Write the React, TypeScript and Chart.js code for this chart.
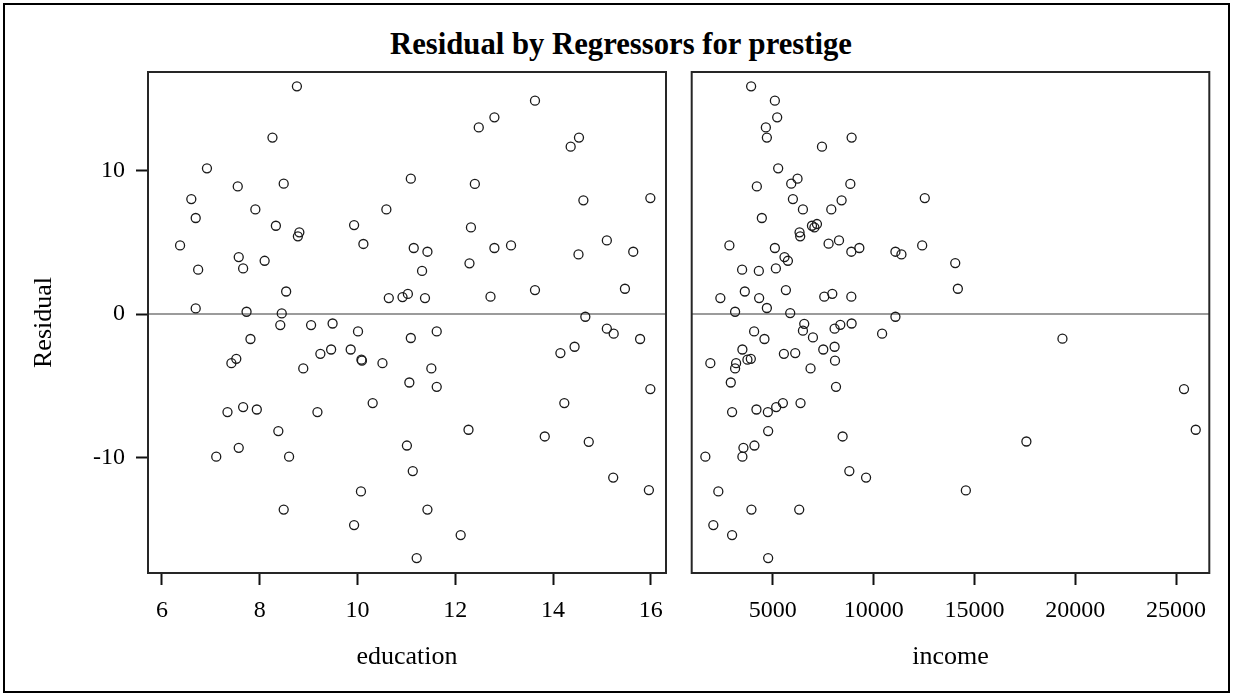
import React, { useEffect, useRef } from "react";
import { Chart, registerables } from "chart.js";

Chart.register(...registerables);

const FONT = '"Liberation Serif", "Times New Roman", Times, serif';

const chartTitle = "Residual by Regressors for prestige";
const yAxisTitle = "Residual";
const eduAxisTitle = "education";
const incAxisTitle = "income";

const residualTicks = [-10, 0, 10];
const educationTicks = [6, 8, 10, 12, 14, 16];
const incomeTicks = [5000, 10000, 15000, 20000, 25000];
const residualRange = [-18.04, 16.86];
const educationRange = [5.714, 16.31];
const incomeRange = [973, 26651];
const referenceValue = 0;

// Left panel: education vs residual
const education = [
  8.76, 8.26, 6.92, 7.55, 8.49, 6.6, 6.69, 7.91, 8.33, 8.81, 8.78, 6.37, 7.57, 7.66, 8.1, 6.74, 8.54, 6.69, 7.73, 8.45,
  9.93, 10.59, 10.12, 10.64, 10.92,
  11.09, 13.63, 12.8, 12.48, 14.53, 14.36, 12.4, 14.62, 15.99, 12.32, 11.15, 11.43, 12.8, 13.14, 15.1, 14.52, 15.64,
  11.32, 12.29, 11.03, 11.38, 12.72, 13.63, 15.47, 14.66,
  8.42, 9.05, 9.49, 10.01, 7.81, 7.52, 7.42, 9.24, 9.46, 9.86, 10.08, 10.09, 10.51, 8.89, 7.34, 7.66, 7.94, 9.18, 10.31,
  8.38, 7.11, 7.57, 8.6, 10.07, 8.49, 9.93,
  11.09, 11.62, 11.51, 11.06, 11.62, 12.27, 11.01, 11.13, 11.43, 12.11, 11.21, 15.1, 15.24, 15.78, 14.44, 14.15, 15.99,
  14.23, 13.83, 14.73, 15.23, 15.96,
];
const residualByEducation = [
  15.86, 12.29, 10.15, 8.89, 9.08, 8.01, 6.69, 7.29, 6.15, 5.69, 5.41, 4.78, 3.97, 3.18, 3.71, 3.09, 1.57, 0.39, 0.16, 0.04,
  6.2, 7.29, 4.88, 1.11, 1.18,
  9.43, 14.86, 13.7, 13.0, 12.29, 11.66, 9.06, 7.92, 8.08, 6.03, 4.6, 4.34, 4.6, 4.78, 5.13, 4.15, 4.34,
  3.0, 3.53, 1.4, 1.11, 1.21, 1.67, 1.76, -0.19,
  -0.77, -0.77, -0.66, -1.21, -1.74, -3.12, -3.42, -2.77, -2.47, -2.47, -3.18, -3.25, -3.42, -3.79, -6.83, -6.48, -6.65,
  -6.83, -6.2, -8.15, -9.94, -9.32, -9.94, -12.36, -13.62, -14.7,
  -1.67, -1.21, -3.79, -4.77, -5.07, -8.06, -9.16, -10.94, -13.62, -15.4, -17.0, -1.02, -1.37, -1.74, -2.28, -2.72, -5.23,
  -6.2, -8.53, -8.9, -11.39, -12.26,
];

// Right panel: income vs residual
const income = [
  3921, 5099, 5214, 4652, 4702, 8907, 7436, 5263, 4205, 6223, 5910, 8843, 12536, 5994, 8410, 6491, 7898, 4453, 6939, 7187,
  7060, 6323, 6356, 2843, 5099, 7764, 8281, 8892, 9290, 11080, 11378, 12407, 5577, 5746, 3474, 4304, 5149, 14047, 2395,
  3608, 4319, 5646, 7550, 7948, 8892, 14177, 3126, 4702, 5860, 11080,
  6556, 6491, 6988, 8062, 8346, 8907, 10419, 4070, 4582, 3488, 3906, 3738, 3176, 3126, 1898, 5547, 6109, 7500, 8062, 8082,
  6869, 2912, 8132, 2977, 4185, 4751, 5164, 5497, 6372, 4766, 8460, 3539, 4085, 3488, 1650, 8793, 9623, 2294, 3936, 6307,
  2046, 2977, 4766,
  19366, 25396, 25978, 17577, 14574,
];
const residualByIncome = [
  15.86, 14.86, 13.7, 13.0, 12.29, 12.29, 11.66, 10.15, 8.89, 9.43, 9.08, 9.06, 8.08, 8.01, 7.92, 7.29, 7.29, 6.69, 6.15, 6.27,
  6.03, 5.69, 5.41, 4.78, 4.6, 4.9, 5.13, 4.34, 4.6, 4.34, 4.15, 4.78, 3.97, 3.71, 3.09, 3.0, 3.18, 3.55, 1.11,
  1.57, 1.11, 1.67, 1.21, 1.41, 1.21, 1.76, 0.16, 0.42, 0.07, -0.19,
  -0.68, -1.16, -1.63, -1.02, -0.75, -0.66, -1.37, -1.21, -1.74, -2.47, -3.12, -3.18, -3.42, -3.79, -3.42, -2.77, -2.72,
  -2.47, -2.28, -3.25, -3.79, -4.77, -5.07, -6.83, -6.65, -6.83, -6.48, -6.2, -6.2, -8.15, -8.53, -9.32, -9.16, -9.94,
  -9.94, -10.94, -11.39, -12.36, -13.62, -13.62, -14.7, -15.4, -17.0,
  -1.72, -5.23, -8.06, -8.88, -12.29,
];

const panelDecor = {
  id: "panelDecor",
  beforeDatasetsDraw(chart: any) {
    const { ctx, chartArea, scales } = chart;
    const y0 = scales.y.getPixelForValue(referenceValue);
    ctx.save();
    ctx.strokeStyle = "#9b9b9b";
    ctx.lineWidth = 2;
    ctx.beginPath();
    ctx.moveTo(chartArea.left, y0);
    ctx.lineTo(chartArea.right, y0);
    ctx.stroke();
    ctx.restore();
  },
  afterDatasetsDraw(chart: any) {
    const { ctx, chartArea } = chart;
    ctx.save();
    ctx.strokeStyle = "#262626";
    ctx.lineWidth = 2;
    ctx.strokeRect(chartArea.left, chartArea.top, chartArea.right - chartArea.left, chartArea.bottom - chartArea.top);
    ctx.restore();
  },
};

function makeConfig(
  xs: number[],
  ys: number[],
  xRange: number[],
  xTicks: number[],
  xTitle: string,
  showY: boolean,
  padding: any
): any {
  return {
    type: "scatter",
    data: {
      datasets: [
        {
          data: xs.map((x, i) => ({ x, y: ys[i] })),
          pointStyle: "circle",
          pointRadius: 4.5,
          pointBorderWidth: 1.3,
          borderColor: "#1a1a1a",
          backgroundColor: "rgba(0,0,0,0)",
          pointBackgroundColor: "rgba(0,0,0,0)",
          pointBorderColor: "#1a1a1a",
        },
      ],
    },
    options: {
      responsive: false,
      animation: false,
      events: [],
      layout: { padding },
      plugins: { legend: { display: false }, tooltip: { enabled: false }, title: { display: false } },
      scales: {
        x: {
          type: "linear",
          position: "bottom",
          min: xRange[0],
          max: xRange[1],
          afterBuildTicks: (s: any) => {
            s.ticks = xTicks.map((v) => ({ value: v }));
          },
          afterFit: (s: any) => {
            s.height = 121;
          },
          grid: { drawOnChartArea: false, drawTicks: true, tickLength: 12, tickWidth: 2, tickColor: "#111" },
          border: { display: false },
          ticks: {
            color: "#000",
            padding: 11.5,
            maxRotation: 0,
            autoSkip: false,
            font: { family: FONT, size: 24 },
            callback: (v: any) => String(v),
          },
          title: {
            display: true,
            text: xTitle,
            color: "#000",
            font: { family: FONT, size: 26 },
            padding: { top: 0, bottom: 21 },
          },
        },
        y: {
          type: "linear",
          display: showY,
          min: residualRange[0],
          max: residualRange[1],
          afterBuildTicks: (s: any) => {
            s.ticks = residualTicks.map((v) => ({ value: v }));
          },
          afterFit: (s: any) => {
            s.width = showY ? 148 : 0;
          },
          grid: { drawOnChartArea: false, drawTicks: true, tickLength: 12, tickWidth: 2, tickColor: "#111" },
          border: { display: false },
          ticks: {
            color: "#000",
            padding: 11,
            autoSkip: false,
            font: { family: FONT, size: 24 },
            callback: (v: any) => String(v),
          },
          title: {
            display: true,
            text: yAxisTitle,
            color: "#000",
            font: { family: FONT, size: 26 },
            padding: { top: 29, bottom: 0 },
          },
        },
      },
    },
    plugins: [panelDecor],
  };
}

export default function App() {
  const leftRef = useRef<HTMLCanvasElement>(null);
  const rightRef = useRef<HTMLCanvasElement>(null);

  useEffect(() => {
    const left = new Chart(
      leftRef.current as HTMLCanvasElement,
      makeConfig(education, residualByEducation, educationRange, educationTicks, eduAxisTitle, true, {
        top: 72,
        left: 0,
        right: 14,
        bottom: 0,
      })
    );
    const right = new Chart(
      rightRef.current as HTMLCanvasElement,
      makeConfig(income, residualByIncome, incomeRange, incomeTicks, incAxisTitle, false, {
        top: 72,
        left: 11.7,
        right: 23.7,
        bottom: 0,
      })
    );
    return () => {
      left.destroy();
      right.destroy();
    };
  }, []);

  return (
    <div
      style={{
        position: "fixed",
        left: 0,
        top: 0,
        width: 1233,
        height: 694,
        background: "#fff",
        overflow: "hidden",
      }}
    >
      <div
        style={{
          position: "absolute",
          left: 3,
          top: 3,
          width: 1227,
          height: 690,
          border: "2px solid #000",
          boxSizing: "border-box",
        }}
      />
      <div
        style={{
          position: "absolute",
          left: 0,
          top: 29,
          width: 1242,
          textAlign: "center",
          fontFamily: FONT,
          fontWeight: "bold",
          fontSize: 30.7,
          lineHeight: "31px",
          color: "#000",
          whiteSpace: "nowrap",
        }}
      >
        {chartTitle}
      </div>
      <canvas
        ref={leftRef}
        width={680}
        height={694}
        style={{ position: "absolute", left: 0, top: 0, width: 680, height: 694 }}
      />
      <canvas
        ref={rightRef}
        width={553}
        height={694}
        style={{ position: "absolute", left: 680, top: 0, width: 553, height: 694 }}
      />
    </div>
  );
}
